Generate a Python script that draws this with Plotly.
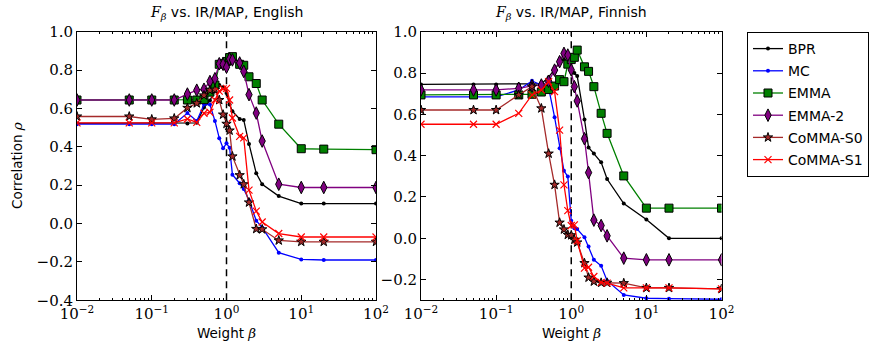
import plotly.graph_objects as go

# ---------------- data ----------------
beta = [0.01, 0.05, 0.1, 0.2, 0.3, 0.4, 0.5, 0.6, 0.7, 0.8, 0.9, 1.0, 1.1, 1.2,
        1.5, 1.7, 2.0, 2.5, 3.0, 5.0, 10, 20, 100]

# English panel
bpr_en   = [0.522, 0.522, 0.522, 0.522, 0.522, 0.525, 0.605, 0.642, 0.690, 0.722, 0.710, 0.680,
            0.620, 0.585, 0.545, 0.540, 0.415, 0.262, 0.205, 0.143, 0.104, 0.104, 0.104]
mc_en    = [0.518, 0.518, 0.518, 0.518, 0.576, 0.535, 0.620, 0.620, 0.535, 0.445, 0.392, 0.418,
            0.395, 0.255, 0.210, 0.180, 0.122, 0.015, -0.020, -0.152, -0.187, -0.190, -0.190]
emma_en  = [0.644, 0.644, 0.644, 0.644, 0.644, 0.644, 0.646, 0.685, 0.722, 0.830, 0.835, 0.845,
            0.865, 0.870, 0.830, 0.825, 0.765, 0.730, 0.644, 0.518, 0.390, 0.388, 0.385]
emma2_en = [0.644, 0.644, 0.644, 0.644, 0.675, 0.695, 0.700, 0.740, 0.755, 0.833, 0.830, 0.815,
            0.858, 0.853, 0.837, 0.793, 0.672, 0.576, 0.430, 0.205, 0.188, 0.188, 0.188]
s0_en    = [0.558, 0.558, 0.543, 0.548, 0.603, 0.627, 0.668, 0.695, 0.698, 0.644, 0.568, 0.520,
            0.485, 0.350, 0.252, 0.205, 0.110, -0.028, -0.030, -0.088, -0.095, -0.095, -0.095]
s1_en    = [0.525, 0.525, 0.525, 0.525, 0.545, 0.527, 0.575, 0.580, 0.644, 0.690, 0.702, 0.705,
            0.644, 0.550, 0.454, 0.447, 0.174, 0.065, 0.008, -0.052, -0.070, -0.070, -0.070]

# Finnish panel
bpr_fi   = [0.745, 0.745, 0.745, 0.745, 0.745, 0.748, 0.780, 0.820, 0.850, 0.865, 0.850, 0.815,
            0.800, 0.785, 0.575, 0.440, 0.410, 0.368, 0.287, 0.168, 0.091, 0.000, 0.000]
mc_fi    = [0.685, 0.685, 0.685, 0.718, 0.762, 0.742, 0.728, 0.586, 0.436, 0.327, 0.299, 0.085,
            0.049, 0.045, 0.005, -0.040, -0.104, -0.133, -0.205, -0.274, -0.290, -0.292, -0.295]
emma_fi  = [0.694, 0.694, 0.694, 0.694, 0.697, 0.708, 0.720, 0.737, 0.768, 0.758, 0.843, 0.865,
            0.876, 0.911, 0.830, 0.808, 0.734, 0.605, 0.508, 0.302, 0.146, 0.146, 0.146]
emma2_fi = [0.718, 0.718, 0.718, 0.726, 0.738, 0.742, 0.760, 0.814, 0.855, 0.895, 0.887, 0.815,
            0.734, 0.665, 0.482, 0.318, 0.088, 0.062, 0.012, -0.096, -0.104, -0.104, -0.104]
s0_fi    = [0.621, 0.621, 0.621, 0.694, 0.734, 0.629, 0.410, 0.259, 0.076, 0.043, 0.017, 0.015,
            -0.007, -0.020, -0.120, -0.190, -0.209, -0.215, -0.215, -0.217, -0.240, -0.240, -0.245]
s1_fi    = [0.552, 0.552, 0.552, 0.605, 0.694, 0.718, 0.758, 0.710, 0.524, 0.259, 0.134, 0.062,
            0.065, -0.012, -0.144, -0.140, -0.185, -0.213, -0.217, -0.240, -0.240, -0.240, -0.245]

series_names = ["BPR", "MC", "EMMA", "EMMA-2", "CoMMA-S0", "CoMMA-S1"]
panel_titles = ["English", "Finnish"]
ref_beta = 1.0
x_tick_vals = [0.01, 0.1, 1, 10, 100]
x_tick_text = ["10<sup>\u22122</sup>", "10<sup>\u22121</sup>", "10<sup>0</sup>",
               "10<sup>1</sup>", "10<sup>2</sup>"]
y_ranges = [[-0.4, 1.0], [-0.3, 1.0]]

# ---------------- styles ----------------
styles = {
    "BPR":      dict(line=dict(color="black", width=1.3),
                     marker=dict(symbol="circle", size=4, color="black")),
    "MC":       dict(line=dict(color="#0000ff", width=1.3),
                     marker=dict(symbol="circle", size=4, color="#0000ff")),
    "EMMA":     dict(line=dict(color="#008000", width=1.3),
                     marker=dict(symbol="square", size=8, color="#008000",
                                 line=dict(color="black", width=1))),
    "EMMA-2":   dict(line=dict(color="#800080", width=1.3),
                     marker=dict(symbol="diamond-tall", size=9, color="#800080",
                                 line=dict(color="black", width=1))),
    "CoMMA-S0": dict(line=dict(color="#a52a2a", width=1.3),
                     marker=dict(symbol="star", size=7, color="#a52a2a",
                                 line=dict(color="black", width=1))),
    "CoMMA-S1": dict(line=dict(color="#ff0000", width=1.3),
                     marker=dict(symbol="x-thin", size=7, color="#ff0000",
                                 line=dict(color="#ff0000", width=1.2))),
}

panels = [
    [bpr_en, mc_en, emma_en, emma2_en, s0_en, s1_en],
    [bpr_fi, mc_fi, emma_fi, emma2_fi, s0_fi, s1_fi],
]

fig = go.Figure()
for p, data in enumerate(panels):
    xa = "x" if p == 0 else "x2"
    ya = "y" if p == 0 else "y2"
    # dashed reference line at beta = 1
    fig.add_trace(go.Scatter(x=[ref_beta, ref_beta], y=y_ranges[p], mode="lines",
                             line=dict(color="black", width=1.5, dash="7px,5px"),
                             showlegend=False, hoverinfo="skip", xaxis=xa, yaxis=ya))
    for name, vals in zip(series_names, data):
        st = styles[name]
        fig.add_trace(go.Scatter(x=beta, y=vals, name=name, mode="lines+markers",
                                 line=st["line"], marker=st["marker"], legendgroup=name,
                                 showlegend=(p == 0), xaxis=xa, yaxis=ya))

W, H = 877, 345
xdom = [[77 / W, 376 / W], [421 / W, 721.5 / W]]
ydom = [(H - 300.3) / H, (H - 31.7) / H]

minor_vals = [m * 10 ** e for e in range(-2, 2) for m in range(2, 10)]

tickfont = dict(family="DejaVu Serif", size=15, color="black")
sans = "DejaVu Sans"

def xaxis_cfg(i):
    return dict(type="log", range=[-2, 2], domain=xdom[i], anchor="y" if i == 0 else "y2",
                tickmode="array", tickvals=x_tick_vals, ticktext=x_tick_text,
                ticks="inside", ticklen=5, tickcolor="black", tickwidth=1,
                showline=True, linecolor="black", linewidth=1, mirror="allticks",
                showgrid=False, zeroline=False, tickfont=tickfont, automargin=False,
                minor=dict(tickmode="array", tickvals=minor_vals, ticks="inside",
                           ticklen=2.5, tickcolor="black", tickwidth=1, showgrid=False))

def yaxis_cfg(i):
    return dict(range=y_ranges[i], domain=ydom, anchor="x" if i == 0 else "x2",
                tick0=0, dtick=0.2, tickformat=".1f", automargin=False,
                ticks="inside", ticklen=5, tickcolor="black", tickwidth=1,
                showline=True, linecolor="black", linewidth=1, mirror="allticks",
                showgrid=False, zeroline=False, tickfont=tickfont)

annotations = []
for i, lang in enumerate(panel_titles):
    cx = (xdom[i][0] + xdom[i][1]) / 2
    annotations.append(dict(
        text='<span style="font-family:DejaVu Serif"><i>F</i><sub><i>\u03b2</i></sub></span> vs. IR/MAP, ' + lang,
        x=cx, y=(H - 13) / H, xref="paper", yref="paper", showarrow=False,
        xanchor="center", yanchor="middle", font=dict(family=sans, size=14, color="black")))
    annotations.append(dict(
        text='Weight <span style="font-family:DejaVu Serif"><i>\u03b2</i></span>',
        x=cx, y=(H - 333) / H, xref="paper", yref="paper", showarrow=False,
        xanchor="center", yanchor="middle", font=dict(family=sans, size=13.5, color="black")))
annotations.append(dict(
    text='Correlation <span style="font-family:DejaVu Serif"><i>\u03c1</i></span>',
    x=17 / W, y=(ydom[0] + ydom[1]) / 2, xref="paper", yref="paper", showarrow=False,
    textangle=-90, xanchor="center", yanchor="middle",
    font=dict(family=sans, size=13.5, color="black")))

fig.update_layout(
    width=W, height=H, margin=dict(l=0, r=0, t=0, b=0, autoexpand=False),
    paper_bgcolor="white", plot_bgcolor="white",
    xaxis=xaxis_cfg(0), xaxis2=xaxis_cfg(1),
    yaxis=yaxis_cfg(0), yaxis2=yaxis_cfg(1),
    annotations=annotations,
    legend=dict(x=747 / W, y=(H - 32) / H, xanchor="left", yanchor="top",
                bordercolor="black", borderwidth=1, bgcolor="white",
                font=dict(family=sans, size=14, color="black"),
                itemwidth=30, tracegroupgap=1),
    showlegend=True,
)

fig.write_html("out.html")
